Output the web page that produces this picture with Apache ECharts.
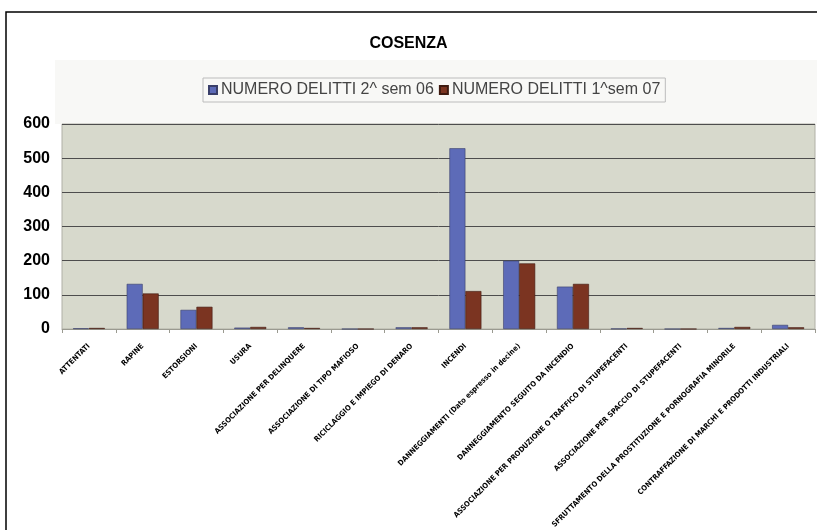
<!DOCTYPE html>
<html>
<head>
<meta charset="utf-8">
<script src="https://cdn.jsdelivr.net/npm/echarts@6/dist/echarts.min.js"></script>
<style>
  html, body { margin:0; padding:0; background:#fff; }
  #chart { width:817px; height:530px; }
</style>
</head>
<body>
<div id="chart"></div>
<script>
var categories = [
  'ATTENTATI',
  'RAPINE',
  'ESTORSIONI',
  'USURA',
  'ASSOCIAZIONE PER DELINQUERE',
  'ASSOCIAZIONE DI TIPO MAFIOSO',
  'RICICLAGGIO E IMPIEGO DI DENARO',
  'INCENDI',
  'DANNEGGIAMENTI (Dato espresso in decine)',
  'DANNEGGIAMENTO SEGUITO DA INCENDIO',
  'ASSOCIAZIONE PER PRODUZIONE O TRAFFICO DI STUPEFACENTI',
  'ASSOCIAZIONE PER SPACCIO DI STUPEFACENTI',
  'SFRUTTAMENTO DELLA PROSTITUZIONE E PORNOGRAFIA MINORILE',
  'CONTRAFFAZIONE DI MARCHI E PRODOTTI INDUSTRIALI'
];
var seriesNames = ['NUMERO DELITTI 2^ sem 06', 'NUMERO DELITTI 1^sem 07'];
var sem2_06 = [2, 132, 56, 4, 5, 0, 5, 529, 200, 124, 1, 0, 3, 12];
var sem1_07 = [3, 104, 65, 6, 3, 0, 5, 111, 192, 132, 3, 0, 6, 5];
var yTicks = [0, 100, 200, 300, 400, 500, 600];

(function(){
  var c = echarts.init(document.getElementById('chart'));
  var blue = '#5d6bb8';
  var brown = '#7b3421';
  var plotBg = '#d7d9cc';
  var gridCol = '#4d4d4d';

  c.setOption({
    animation:false,
    backgroundColor:'#ffffff',
    title:{
      text:'COSENZA', left:'center', top:31,
      textStyle:{fontFamily:'Liberation Sans, Arial, sans-serif', fontSize:16, fontWeight:'bold', color:'#000'}
    },
    legend:{
      top:78, left:203,
      data:seriesNames,
      itemWidth:8, itemHeight:8, itemGap:5,
      icon:'rect',
      padding:[4,5],
      borderColor:'#bcbcbc', borderWidth:1,
      textStyle:{fontFamily:'Liberation Sans, Arial, sans-serif', fontSize:16, color:'#444', padding:[0,0,0,-1]}
    },
    graphic:[
      {type:'rect', z:-10, shape:{x:55, y:60, width:762, height:64}, style:{fill:'#f8f8f6'}},
      {type:'polyline', z:10, shape:{points:[[6,540],[6,12],[830,12]]}, style:{stroke:'#000', lineWidth:1.5, fill:null}}
    ],
    grid:{left:62, right:2, top:124, bottom:201, containLabel:false, outerBoundsMode:'none',
      show:true, backgroundColor:plotBg, borderColor:'#b0b0a6', borderWidth:1},
    xAxis:{
      type:'category', data:categories,
      axisLine:{show:true, lineStyle:{color:'#9a9a90'}},
      axisTick:{show:true, length:4, lineStyle:{color:'#9a9a90'}},
      axisLabel:{
        interval:0, rotate:45, margin:16,
        fontFamily:'DejaVu Sans Condensed, Liberation Sans Narrow, sans-serif',
        fontSize:7.5, fontWeight:'bold', color:'#000'
      }
    },
    yAxis:{
      type:'value', min:yTicks[0], max:yTicks[yTicks.length-1], interval:100,
      axisLine:{show:false}, axisTick:{show:false},
      axisLabel:{margin:12, fontFamily:'Liberation Sans, Arial, sans-serif', fontSize:16, fontWeight:'bold', color:'#000',
        formatter:function(v){ return yTicks.indexOf(v) >= 0 ? String(v) : ''; }},
      splitLine:{show:true, lineStyle:{color:gridCol, width:1}}
    },
    series:[
      {name:seriesNames[0], type:'bar', data:sem2_06, barWidth:16, barGap:'0%',
        itemStyle:{color:blue, borderColor:'#3a3f6a', borderWidth:0.6}},
      {name:seriesNames[1], type:'bar', data:sem1_07, barWidth:16,
        itemStyle:{color:brown, borderColor:'#3f1a10', borderWidth:0.6}}
    ]
  });
})();
</script>
</body>
</html>
